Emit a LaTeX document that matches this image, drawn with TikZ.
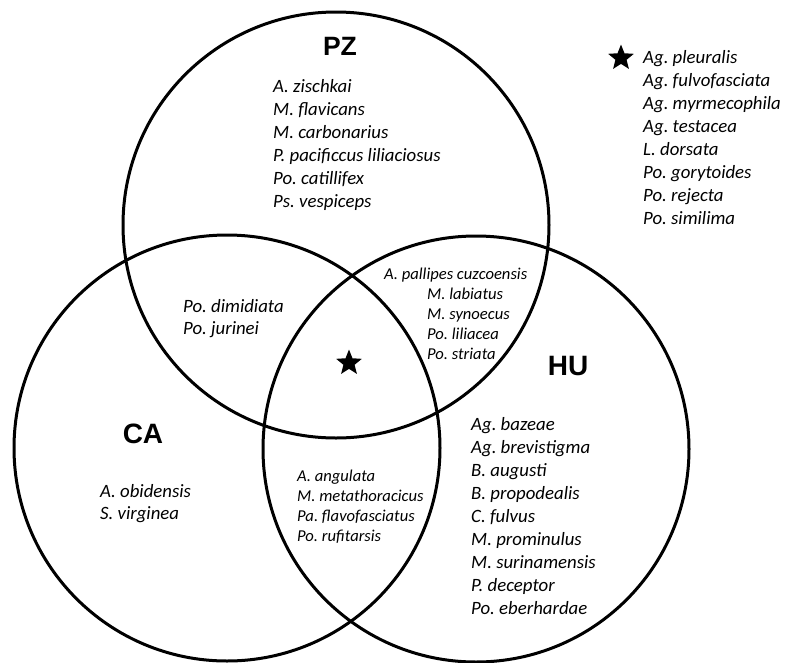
\documentclass[tikz,border=0pt]{standalone}
\usepackage{fontspec}
\setmainfont{Carlito}
\newfontfamily\labfont{Liberation Sans}
\usetikzlibrary{shapes.geometric}
\frenchspacing
\begin{document}
\begin{tikzpicture}[x=1pt,y=-1pt]
\useasboundingbox (0,0) rectangle (785,662);
\tikzset{
  ring/.style={circle, draw=black, line width=3pt, minimum size=426pt, inner sep=0pt},
  sp/.style={font=\fontsize{18.8}{22}\selectfont\itshape, anchor=base west, inner sep=0pt},
  spsmall/.style={sp, font=\fontsize{16.6}{20}\selectfont\itshape},
  setlab/.style={font=\labfont\fontsize{28}{30}\selectfont\bfseries, inner sep=0pt, anchor=base},
  starmark/.style={star, star points=5, star point ratio=2.3, fill=black, draw=none, minimum size=27pt, inner sep=0pt}
}
% circles
\node[ring] (pz) at (336,225) {};
\node[ring] (ca) at (227,448) {};
\node[ring] (hu) at (476,449) {};
% set labels
\node[setlab, font=\labfont\fontsize{26.5}{30}\selectfont\bfseries] (pzlab) at (340,55) {PZ};
\node[setlab] (calab) at (143,443) {CA};
\node[setlab] (hulab) at (568,375) {HU};
% PZ only
\foreach \t [count=\i] in {A. zischkai, M. flavicans, M. carbonarius, P. pacificcus liliaciosus, Po. catillifex, Ps. vespiceps}
  \node[sp] (pz\i) at (273, 92.7+22.9*\i-22.9) {\t};
% PZ and CA
\foreach \t [count=\i] in {Po. dimidiata, Po. jurinei}
  \node[sp] (pzca\i) at (183, 312+22*\i-22) {\t};
% PZ and HU
\node[spsmall] (pzhu1) at (384,279) {A. pallipes cuzcoensis};
\foreach \t [count=\i] in {M. labiatus, M. synoecus, Po. liliacea, Po. striata}
  \node[spsmall] (pzhu\i b) at (427, 299+20.3*\i-20.3) {\t};
% CA only
\foreach \t [count=\i] in {A. obidensis, S. virginea}
  \node[sp] (ca\i) at (100, 497+22*\i-22) {\t};
% CA and HU
\foreach \t [count=\i] in {A. angulata, M. metathoracicus, Pa. flavofasciatus, Po. rufitarsis}
  \node[spsmall] (cahu\i) at (297, 481+20.3*\i-20.3) {\t};
% HU only
\foreach \t [count=\i] in {Ag. bazeae, Ag. brevistigma, B. augusti, B. propodealis, C. fulvus, M. prominulus, M. surinamensis, P. deceptor, Po. eberhardae}
  \node[sp] (hu\i) at (471, 430+23*\i-23) {\t};
% triple intersection
\node[starmark] (all) at (349,363) {};
% legend
\node[starmark] (legstar) at (621,58) {};
\foreach \t [count=\i] in {Ag. pleuralis, Ag. fulvofasciata, Ag. myrmecophila, Ag. testacea, L. dorsata, Po. gorytoides, Po. rejecta, Po. similima}
  \node[sp] (leg\i) at (643, 63+23*\i-23) {\t};
\end{tikzpicture}
\end{document}
